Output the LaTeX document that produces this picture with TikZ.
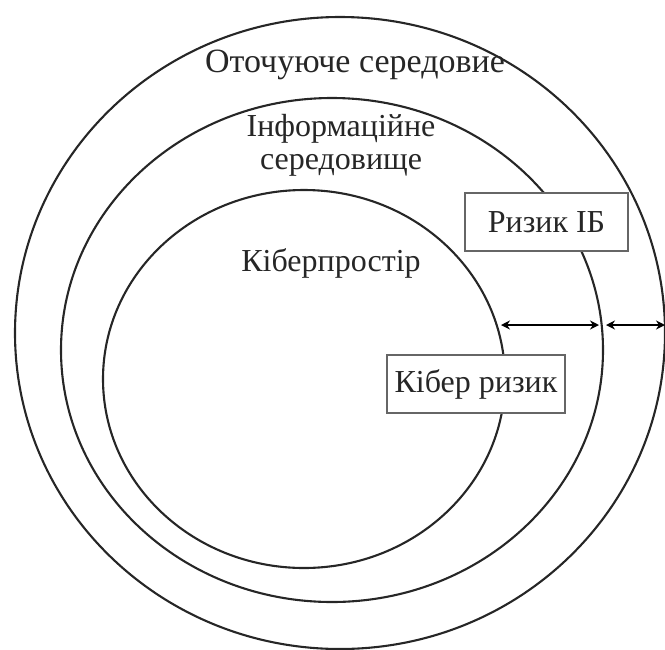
\documentclass[tikz,border=0pt]{standalone}
\usepackage{fontspec}
\setmainfont{Liberation Serif}
\usetikzlibrary{arrows.meta}
\begin{document}
\begin{tikzpicture}[x=1pt,y=-1pt,
  ring/.style={draw=black!85, line width=2.1pt},
  caption/.style={font=\fontsize{32}{33}\selectfont, text=black!85, align=center, inner sep=0pt},
  riskbox/.style={draw=black!60, line width=1.4pt, fill=white, text=black!85,
    font=\fontsize{32}{34}\selectfont, minimum height=58pt, inner sep=0pt},
  gap/.style={line width=2.8pt, {Stealth[length=9pt,width=9pt]}-{Stealth[length=9pt,width=9pt]}}]
\useasboundingbox (0,0) rectangle (665,649);

% nested environments
\draw[ring] (340,333) ellipse [x radius=325pt, y radius=316pt];
\draw[ring] (332,350) ellipse [x radius=271pt, y radius=252pt];
\draw[ring] (304,379) ellipse [x radius=201pt, y radius=189pt];

% layer titles
\node[caption, font=\fontsize{34}{35}\selectfont] (env) at (355,65) {Оточуюче середовие};
\node[caption] (info)  at (341,145) {Інформаційне\\середовище};
\node[caption] (cyber) at (331,263) {Кіберпростір};

% risk labels
\node[riskbox, minimum width=163pt] (isrisk)    at (546.5,222) {Ризик ІБ};
\node[riskbox, minimum width=178pt] (cyberrisk) at (476,384)   {Кібер ризик};

% distances between the boundaries
\coordinate (innerb) at (501,325);
\coordinate (midl)   at (599,325);
\coordinate (midr)   at (606,325);
\coordinate (outerb) at (665,325);
\draw[gap] (innerb) -- (midl);
\draw[gap] (midr) -- (outerb);
\end{tikzpicture}
\end{document}
